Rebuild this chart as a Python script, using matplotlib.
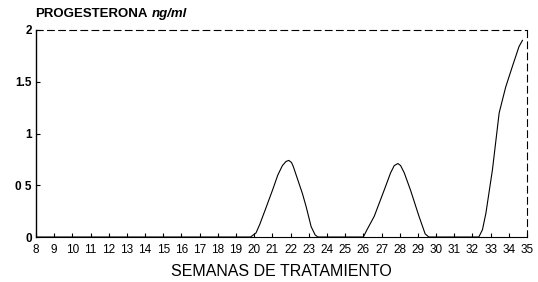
import matplotlib
matplotlib.use("Agg")
import matplotlib.pyplot as plt

plt.rcParams["font.family"] = ["Liberation Sans", "DejaVu Sans"]

# Data (weeks of treatment vs progesterone ng/ml)
weeks = [8, 19.8, 20.1, 20.3, 20.6, 21.0, 21.3, 21.55, 21.75, 21.9, 22.05, 22.15, 22.4, 22.65,
         22.86, 23.13, 23.35, 23.5,
         26.0, 26.2, 26.6, 27.14, 27.5, 27.7, 27.9, 28.05, 28.25, 28.6, 29.06, 29.4, 29.6,
         32.35, 32.55, 32.74, 33.1, 33.47, 33.83, 34.2, 34.56, 34.75]
progesterone = [0, 0, 0.04, 0.12, 0.26, 0.45, 0.60, 0.69, 0.73, 0.74, 0.72, 0.68, 0.55, 0.42,
                0.29, 0.10, 0.02, 0,
                0, 0.07, 0.20, 0.45, 0.62, 0.69, 0.71, 0.69, 0.62, 0.45, 0.20, 0.03, 0,
                0, 0.07, 0.23, 0.65, 1.20, 1.45, 1.65, 1.84, 1.90]

xticks = list(range(8, 36))
yticks = [0, 0.5, 1, 1.5, 2]
ytick_labels = ["0", "0 5", "1", "1.5", "2"]

fig = plt.figure(figsize=(5.38, 2.82), dpi=100)
ax = fig.add_axes([36 / 538, 1 - 237 / 282, (527 - 36) / 538, (237 - 30) / 282])

ax.plot(weeks, progesterone, color="black", linewidth=0.8)

ax.set_xlim(8, 35)
ax.set_ylim(0, 2)
ax.set_xticks(xticks)
ax.set_xticklabels([str(w) for w in xticks], fontsize=8.5)
ax.set_yticks(yticks)
ax.set_yticklabels(ytick_labels, fontsize=8.5, fontweight="bold")
ax.tick_params(direction="in", length=3, width=0.8)
ax.tick_params(axis="x", pad=5)
ax.tick_params(axis="y", pad=3)

ax.spines["left"].set_linewidth(1.0)
ax.spines["bottom"].set_linewidth(0.8)
for side in ["top", "right"]:
    ax.spines[side].set_linestyle((0, (6, 4)))
    ax.spines[side].set_linewidth(0.8)

t1 = fig.text(35 / 538, 1 - 14 / 282, "PROGESTERONA", fontsize=9.5, fontweight="bold", va="center")
fig.canvas.draw()
bb = t1.get_window_extent()
fig.text((bb.x1 + 4) / 538, 1 - 14 / 282, "ng/ml", fontsize=9.5, fontweight="bold",
         style="italic", va="center")

ax.set_xlabel("SEMANAS DE TRATAMIENTO", fontsize=11.5, labelpad=6)

fig.savefig("out.png", dpi=100)
